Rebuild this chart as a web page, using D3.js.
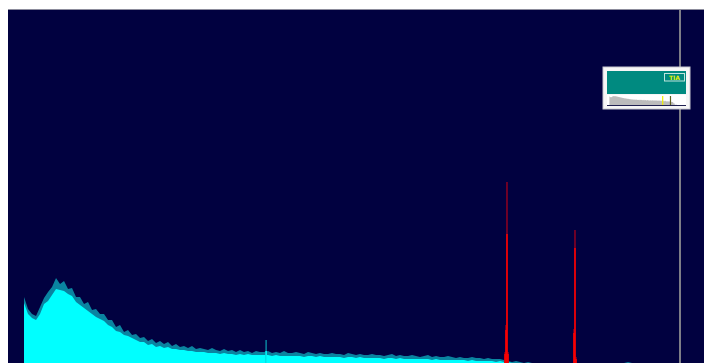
<!DOCTYPE html>
<html>
<head>
<meta charset="utf-8">
<script src="https://cdn.jsdelivr.net/npm/d3@7"></script>
<style>
  html, body { margin: 0; padding: 0; background: #ffffff; }
  svg { display: block; }
</style>
</head>
<body>
<svg id="chart" width="704" height="363"></svg>
<script>
// Gamma spectrum: continuum counts per energy bin (noise envelope and floor)
const binStartKeV = 42.2;
const binWidthKeV = 9.37;

const envelopeCounts = [
  660, 540, 490, 470, 560, 650, 710, 760, 850, 790,
  820, 740, 750, 660, 660, 590, 610, 530, 540, 490,
  490, 430, 430, 360, 380, 310, 330, 280, 290, 250,
  260, 220, 240, 200, 220, 190, 210, 170, 190, 160,
  170, 150, 170, 140, 150, 140, 130, 150, 130, 120,
  140, 120, 130, 110, 130, 110, 120, 100, 120, 110,
  110, 120, 100, 110, 100, 120, 100, 100, 110, 100,
  90, 110, 100, 90, 100, 90, 90, 100, 90, 90,
  80, 100, 90, 80, 90, 80, 80, 90, 80, 80,
  70, 80, 90, 70, 80, 70, 70, 80, 70, 60,
  70, 80, 60, 70, 60, 60, 70, 60, 50, 60,
  50, 50, 60, 50, 50, 40, 50, 40, 40, 40,
  30, 20, 10, 20, 10, 0, 10, 0, 0, 0,
  0, 0, 0, 0, 0, 0, 0, 0, 0, 0,
  0, 0, 0, 0, 0, 0, 0, 0, 0, 0,
  0, 10, 0
];

const floorCounts = [
  600, 490, 450, 430, 490, 590, 620, 680, 740, 730,
  720, 690, 670, 610, 580, 550, 520, 490, 460, 440,
  420, 380, 360, 320, 310, 280, 270, 250, 230, 210,
  210, 180, 190, 160, 170, 150, 160, 140, 140, 130,
  130, 120, 120, 110, 110, 110, 100, 100, 100, 90,
  100, 90, 90, 80, 90, 80, 90, 80, 80, 80,
  80, 80, 70, 80, 70, 70, 70, 70, 70, 70,
  60, 70, 70, 60, 70, 60, 60, 60, 60, 60,
  50, 60, 60, 50, 60, 50, 50, 50, 50, 50,
  40, 50, 50, 40, 50, 40, 40, 40, 40, 40,
  40, 40, 30, 40, 30, 30, 30, 30, 30, 30,
  30, 20, 30, 20, 20, 20, 20, 20, 10, 20,
  10, 10, 0, 0, 0, 0, 0, 0, 0, 0,
  0, 0, 0, 0, 0, 0, 0, 0, 0, 0,
  0, 0, 0, 0, 0, 0, 0, 0, 0, 0,
  0, 0, 0
];

// Narrow photopeak channels: energy (keV), envelope and floor counts
const lineKeV      = [609.3, 1168.9, 1171.2, 1173.5, 1175.9, 1330.5, 1332.8, 1335.2];
const lineEnvelope = [230,   110,    380,    1810,   110,    340,    1330,   60];
const lineFloor    = [120,   90,     330,    1290,   90,     300,    1150,   40];
const lineInROI    = [false, true,   true,   true,   true,   true,   true,   true];

// Cursor position (keV)
const cursorKeV = 1578.8;

// Overview strip: energy span and markers (keV)
const overviewSpanKeV = [0, 1400];
const overviewMarkers = [987, 1125];
const overviewLabel = "TIA";

const svg = d3.select("#chart");

const x = d3.scaleLinear().domain([0, 1635]).range([6, 704]);
const y = d3.scaleLinear().domain([0, 3530]).range([363, 10]);

const colors = {
  bg: "#010140",
  frame: "#8c8c9c",
  fill: "#00ffff",
  fringe: "#0a84a0",
  roi: "#ff0000",
  roiFringe: "#900020",
  cursor: "#a8a8a0"
};

// Plot background and top frame line
svg.append("rect").attr("x", 8).attr("y", 9).attr("width", 696).attr("height", 354).attr("fill", colors.bg);
svg.append("line").attr("x1", 8).attr("x2", 704).attr("y1", 9.5).attr("y2", 9.5)
  .attr("stroke", colors.frame).attr("stroke-width", 1);

const plot = svg.append("g");

const toPoints = arr => arr.map((c, i) => ({ k: binStartKeV + i * binWidthKeV, c }));
const continuumArea = d3.area()
  .x(d => x(d.k))
  .y0(y(0))
  .y1(d => y(d.c))
  .curve(d3.curveLinear);

// Continuum: noise envelope, then the solid floor over it
const envPts = toPoints(envelopeCounts);
const flrPts = toPoints(floorCounts);
// start each trace with a vertical edge at the first bin
const withEdge = pts => [{ k: pts[0].k, c: 0 }].concat(pts);
plot.append("path").datum(withEdge(envPts)).attr("d", continuumArea).attr("fill", colors.fringe);
plot.append("path").datum(withEdge(flrPts)).attr("d", continuumArea).attr("fill", colors.fill);

// Photopeak channels
const lines = lineKeV.map((k, i) => ({ k, top: lineEnvelope[i], base: lineFloor[i], roi: lineInROI[i] }));
const lineG = plot.append("g");
const lineW = 1.5;
lineG.selectAll("rect.env").data(lines).join("rect")
  .attr("class", "env")
  .attr("x", d => x(d.k) - lineW / 2)
  .attr("width", lineW)
  .attr("y", d => y(d.top))
  .attr("height", d => y(0) - y(d.top))
  .attr("fill", d => d.roi ? colors.roiFringe : colors.fringe);
lineG.selectAll("rect.flr").data(lines).join("rect")
  .attr("class", "flr")
  .attr("x", d => x(d.k) - lineW / 2)
  .attr("width", lineW)
  .attr("y", d => y(d.base))
  .attr("height", d => y(0) - y(d.base))
  .attr("fill", d => d.roi ? colors.roi : colors.fill);

// Cursor
svg.append("line")
  .attr("x1", x(cursorKeV)).attr("x2", x(cursorKeV))
  .attr("y1", 10).attr("y2", 363)
  .attr("stroke", colors.cursor).attr("stroke-width", 1.5);

// Overview widget
const ov = svg.append("g");
ov.append("rect").attr("x", 603).attr("y", 67).attr("width", 87).attr("height", 42)
  .attr("fill", "#f6f6f6").attr("stroke", "#c8c8d0").attr("stroke-width", 1);
ov.append("rect").attr("x", 607).attr("y", 71).attr("width", 79).attr("height", 23).attr("fill", "#008a80");
ov.append("rect").attr("x", 664.5).attr("y", 73.5).attr("width", 20).attr("height", 7.5)
  .attr("fill", "none").attr("stroke", "#bfe4dc").attr("stroke-width", 1);
ov.append("text").attr("x", 674.5).attr("y", 80).attr("text-anchor", "middle")
  .attr("font-family", "DejaVu Sans, sans-serif").attr("font-size", 6).attr("font-weight", "bold")
  .attr("fill", "#e6f000").text(overviewLabel);

const ox = d3.scaleLinear().domain(overviewSpanKeV).range([607, 686]).clamp(true);
const oy = d3.scaleLog().domain([8, 900]).range([105, 96]).clamp(true);
ov.append("rect").attr("x", 607).attr("y", 95).attr("width", 79).attr("height", 11).attr("fill", "#ffffff");
const area = d3.area()
  .x(d => ox(d.k)).y0(105).y1(d => oy(Math.max(d.c, 8)))
  .curve(d3.curveStepAfter);
ov.append("path")
  .datum(envPts)
  .attr("d", area).attr("fill", "#bcbcbc");
ov.append("line").attr("x1", 607).attr("x2", 686).attr("y1", 105.5).attr("y2", 105.5)
  .attr("stroke", "#202050").attr("stroke-width", 1);
ov.selectAll("line.mk").data(overviewMarkers).join("line")
  .attr("class", "mk")
  .attr("x1", d => ox(d)).attr("x2", d => ox(d))
  .attr("y1", 96).attr("y2", 105)
  .attr("stroke", (d, i) => i === 0 ? "#f0f000" : "#606020")
  .attr("stroke-width", 1.2);
</script>
</body>
</html>
